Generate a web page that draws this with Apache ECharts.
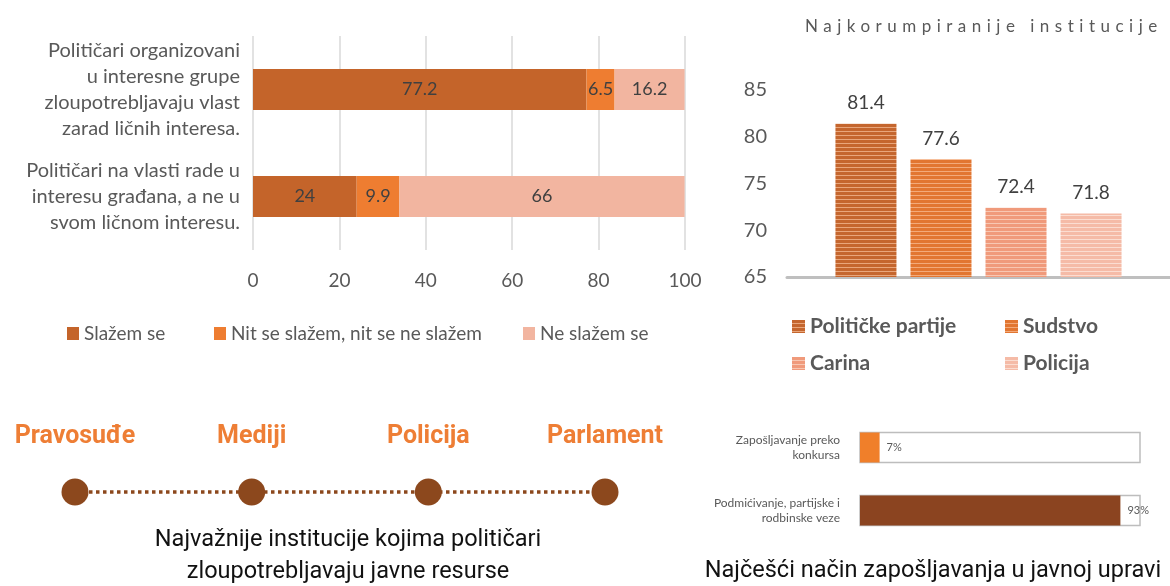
<!DOCTYPE html>
<html>
<head>
<meta charset="utf-8">
<script src="https://cdn.jsdelivr.net/npm/echarts@6/dist/echarts.min.js"></script>
<style>
html,body{margin:0;padding:0;background:#fff;}
#main{width:1170px;height:586px;}
</style>
</head>
<body>
<div id="main"></div>
<script>
// ---- Chart 1: stacked horizontal bars ----
const agreeCategories = [
  'Političari organizovani\nu interesne grupe\nzloupotrebljavaju vlast\nzarad ličnih interesa.',
  'Političari na vlasti rade u\ninteresu građana, a ne u\nsvom ličnom interesu.'
];
const agreeNames = ['Slažem se', 'Nit se slažem, nit se ne slažem', 'Ne slažem se'];
const agreeValues = [77.2, 24];
const neutralValues = [6.5, 9.9];
const disagreeValues = [16.2, 66];
const agreeTicks = [0, 20, 40, 60, 80, 100];

// ---- Chart 2: most corrupt institutions ----
const corruptTitle = 'Najkorumpiranije institucije';
const corruptNames = ['Političke partije', 'Sudstvo', 'Carina', 'Policija'];
const corruptValues = [81.4, 77.6, 72.4, 71.8];
const corruptTicks = [65, 70, 75, 80, 85];

// ---- Chart 3: institutions abused ----
const abusedInstitutions = ['Pravosuđe', 'Mediji', 'Policija', 'Parlament'];
const abusedLevel = [0, 0, 0, 0];
const abusedCaption = 'Najvažnije institucije kojima političari\nzloupotrebljavaju javne resurse';

// ---- Chart 4: hiring in public administration ----
const hiringCategories = ['Zapošljavanje preko\nkonkursa', 'Podmićivanje, partijske i\nrodbinske veze'];
const hiringValues = [7, 93];
const hiringCaption = 'Najčešći način zapošljavanja u javnoj upravi';

function stripes(dark, light) {
  const c = document.createElement('canvas');
  c.width = 4; c.height = 4;
  const g = c.getContext('2d');
  g.fillStyle = light; g.fillRect(0, 0, 4, 4);
  g.fillStyle = dark; g.fillRect(0, 0, 4, 3);
  return { image: c, repeat: 'repeat' };
}
const corruptFills = [
  stripes('#C5662E', '#E9A67B'),
  stripes('#E27631', '#F3AA7A'),
  stripes('#F09A7B', '#F8C7B2'),
  stripes('#F5BBA7', '#FBDDD1')
];
const stackColors = ['#C4642A', '#EE7D31', '#F2B5A0'];
const hiringColors = ['#F07F2A', '#8B4420'];

const labelFont = 'Lato';
const chart = echarts.init(document.getElementById('main'), null, { renderer: 'canvas' });

const series = [];
[agreeValues, neutralValues, disagreeValues].forEach((vals, i) => {
  series.push({
    type: 'bar', name: agreeNames[i], stack: 'a',
    xAxisIndex: 0, yAxisIndex: 0, barWidth: 41,
    data: vals, itemStyle: { color: stackColors[i] },
    label: { show: true, position: 'inside', color: '#404040', fontSize: 18, fontFamily: labelFont }
  });
});
corruptValues.forEach((v, i) => {
  series.push({
    type: 'bar', name: corruptNames[i], xAxisIndex: 1, yAxisIndex: 1,
    barWidth: 61, barGap: '23%', data: [v],
    itemStyle: { color: corruptFills[i] },
    label: { show: true, position: 'top', distance: 11, color: '#404040', fontSize: 19, fontFamily: labelFont }
  });
});
series.push({
  type: 'line', name: 'Institucije', xAxisIndex: 2, yAxisIndex: 2,
  data: abusedLevel, symbol: 'circle', symbolSize: 27,
  itemStyle: { color: '#8C481D' },
  lineStyle: { color: '#8C481D', width: 3.5, type: [3.5, 3.5] },
  label: { show: true, position: 'top', distance: 29, formatter: '{b}',
    color: '#EE7E35', fontSize: 25, fontWeight: 'bold', fontFamily: 'Roboto' }
});
series.push({
  type: 'bar', name: 'Zapošljavanje', xAxisIndex: 3, yAxisIndex: 3,
  barWidth: 30,
  data: hiringValues.map((v, i) => ({ value: v, itemStyle: { color: hiringColors[i] } })),
  showBackground: true,
  backgroundStyle: { color: '#ffffff', borderColor: '#BDBDBD', borderWidth: 1.5 },
  label: { show: true, position: 'right', distance: 7, formatter: '{c}%', color: '#595959', fontSize: 11, fontFamily: labelFont }
});

const option = {
  animation: false,
  backgroundColor: '#ffffff',
  textStyle: { fontFamily: labelFont },
  title: [{
    text: corruptTitle, left: 805, top: 18, zlevel: 1, padding: 0,
    textStyle: { fontSize: 17, fontWeight: 'normal', color: '#595959', fontFamily: labelFont }
  }],
  legend: [
    { data: [agreeNames[0]], left: 67, top: 324 },
    { data: [agreeNames[1]], left: 214, top: 324 },
    { data: [agreeNames[2]], left: 523, top: 324 },
    { data: [corruptNames[0]], left: 792, top: 316 },
    { data: [corruptNames[1]], left: 1005, top: 316 },
    { data: [corruptNames[2]], left: 792, top: 353 },
    { data: [corruptNames[3]], left: 1005, top: 353 }
  ].map((l, i) => Object.assign({
    padding: 0, itemWidth: i < 3 ? 12 : 13, itemHeight: 13, icon: 'rect',
    selectedMode: false,
    textStyle: i < 3
      ? { fontSize: 19, color: '#595959', fontFamily: labelFont }
      : { fontSize: 21, color: '#595959', fontWeight: 'bold', fontFamily: labelFont }
  }, l)),
  grid: [
    { left: 253, right: 485, top: 36, bottom: 336 },
    { left: 787, right: 0, top: 90, bottom: 309 },
    { left: 75, right: 565, top: 470, bottom: 72 },
    { left: 860, right: 30, top: 416, bottom: 44 }
  ],
  xAxis: [
    { type: 'value', gridIndex: 0, min: agreeTicks[0], max: agreeTicks[agreeTicks.length - 1], interval: 20,
      axisLine: { show: false }, axisTick: { show: false },
      splitLine: { lineStyle: { color: '#D9D9D9', width: 1.5 } },
      axisLabel: { fontSize: 19, color: '#595959', margin: 21, fontFamily: labelFont } },
    { type: 'category', gridIndex: 1, data: [''],
      axisLine: { lineStyle: { color: '#BFBFBF', width: 3 } }, axisTick: { show: false }, axisLabel: { show: false } },
    { type: 'category', gridIndex: 2, data: abusedInstitutions, boundaryGap: false, show: false },
    { type: 'value', gridIndex: 3, min: 0, max: 100, show: false }
  ],
  yAxis: [
    { type: 'category', gridIndex: 0, data: agreeCategories, inverse: true,
      axisLine: { show: false }, axisTick: { show: false },
      axisLabel: { fontSize: 20, lineHeight: 26, color: '#595959', margin: 13, align: 'right', fontFamily: labelFont } },
    { type: 'value', gridIndex: 1, min: corruptTicks[0], max: corruptTicks[corruptTicks.length - 1], interval: 5,
      axisLine: { show: false }, axisTick: { show: false }, splitLine: { show: false },
      axisLabel: { fontSize: 20, color: '#595959', margin: 20, fontFamily: labelFont } },
    { type: 'value', gridIndex: 2, min: -1, max: 1, show: false },
    { type: 'category', gridIndex: 3, data: hiringCategories, inverse: true,
      axisLine: { show: false }, axisTick: { show: false },
      axisLabel: { fontSize: 12, lineHeight: 15, color: '#595959', margin: 20, align: 'right', fontFamily: labelFont } }
  ],
  graphic: [
    { type: 'text', x: 348, y: 556, style: { text: abusedCaption, fill: '#111111', fontSize: 23.5, lineHeight: 32,
      fontFamily: 'Roboto', align: 'center', verticalAlign: 'middle' } },
    { type: 'text', x: 933, y: 571, style: { text: hiringCaption, fill: '#111111', fontSize: 23.5,
      fontFamily: 'Roboto', align: 'center', verticalAlign: 'middle' } }
  ],
  series: series
};
chart.setOption(option);
try {
  const painter = chart.getZr().painter;
  const layer = painter.getLayer(1);
  if (layer && layer.ctx) {
    layer.ctx.letterSpacing = '5.5px';
    painter.refresh(true);
  }
} catch (e) {}
</script>
</body>
</html>
